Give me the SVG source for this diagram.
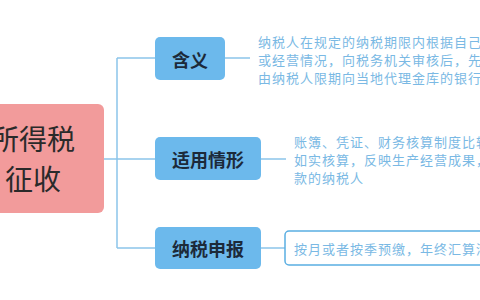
<svg xmlns="http://www.w3.org/2000/svg" width="480" height="300" viewBox="0 0 480 300">
<style>
.cn{font-family:"Noto Sans CJK SC","Noto Sans",sans-serif}
.root{fill:#f29b9b}
.rootT{font-size:28px;fill:#2a2a2a}
.node{fill:#6cb9ec}
.nodeT{font-size:18px;font-weight:bold;fill:#1c2a3a;text-anchor:middle;dominant-baseline:central}
.desc{font-size:13px;letter-spacing:1px;fill:#7ab9e4;dominant-baseline:central}
.conn{fill:none;stroke:#8cc5ea;stroke-width:1.5}
</style>
<rect width="480" height="300" fill="#ffffff"/>
<g id="connectors">
<path class="conn" d="M104 159H117M117 58V248M117 58H155M117 159H155M117 248H155"/>
<path class="conn" d="M225 58H250M261 159H286M261 248H285"/>
</g>
<g id="root">
<rect class="root" x="-100" y="104" width="204" height="109" rx="6"/>
<text class="cn rootT" x="-9" y="150">所得税</text>
<text class="cn rootT" x="5" y="190">征收</text>
</g>
<g id="n1">
<rect class="node" x="155" y="37" width="70" height="43" rx="5"/>
<text class="cn nodeT" x="190" y="58.5">含义</text>
</g>
<g id="n2">
<rect class="node" x="155" y="137" width="106" height="43" rx="5"/>
<text class="cn nodeT" x="208" y="159">适用情形</text>
</g>
<g id="n3">
<rect class="node" x="155" y="227" width="106" height="42" rx="5"/>
<text class="cn nodeT" x="208" y="248">纳税申报</text>
</g>
<g id="d1">
<text class="cn desc" x="258" y="41">纳税人在规定的纳税期限内根据自己</text>
<text class="cn desc" x="258" y="59">或经营情况，向税务机关审核后，先</text>
<text class="cn desc" x="258" y="77">由纳税人限期向当地代理金库的银行</text>
</g>
<g id="d2">
<text class="cn desc" x="294" y="141">账簿、凭证、财务核算制度比较</text>
<text class="cn desc" x="294" y="159">如实核算，反映生产经营成果，</text>
<text class="cn desc" x="294" y="177">款的纳税人</text>
</g>
<g id="d3">
<rect x="285" y="231" width="220" height="34" rx="4" fill="#ffffff" stroke="#5aaee2" stroke-width="1.5"/>
<text class="cn desc" x="294" y="248">按月或者按季预缴，年终汇算清缴</text>
</g>
</svg>
